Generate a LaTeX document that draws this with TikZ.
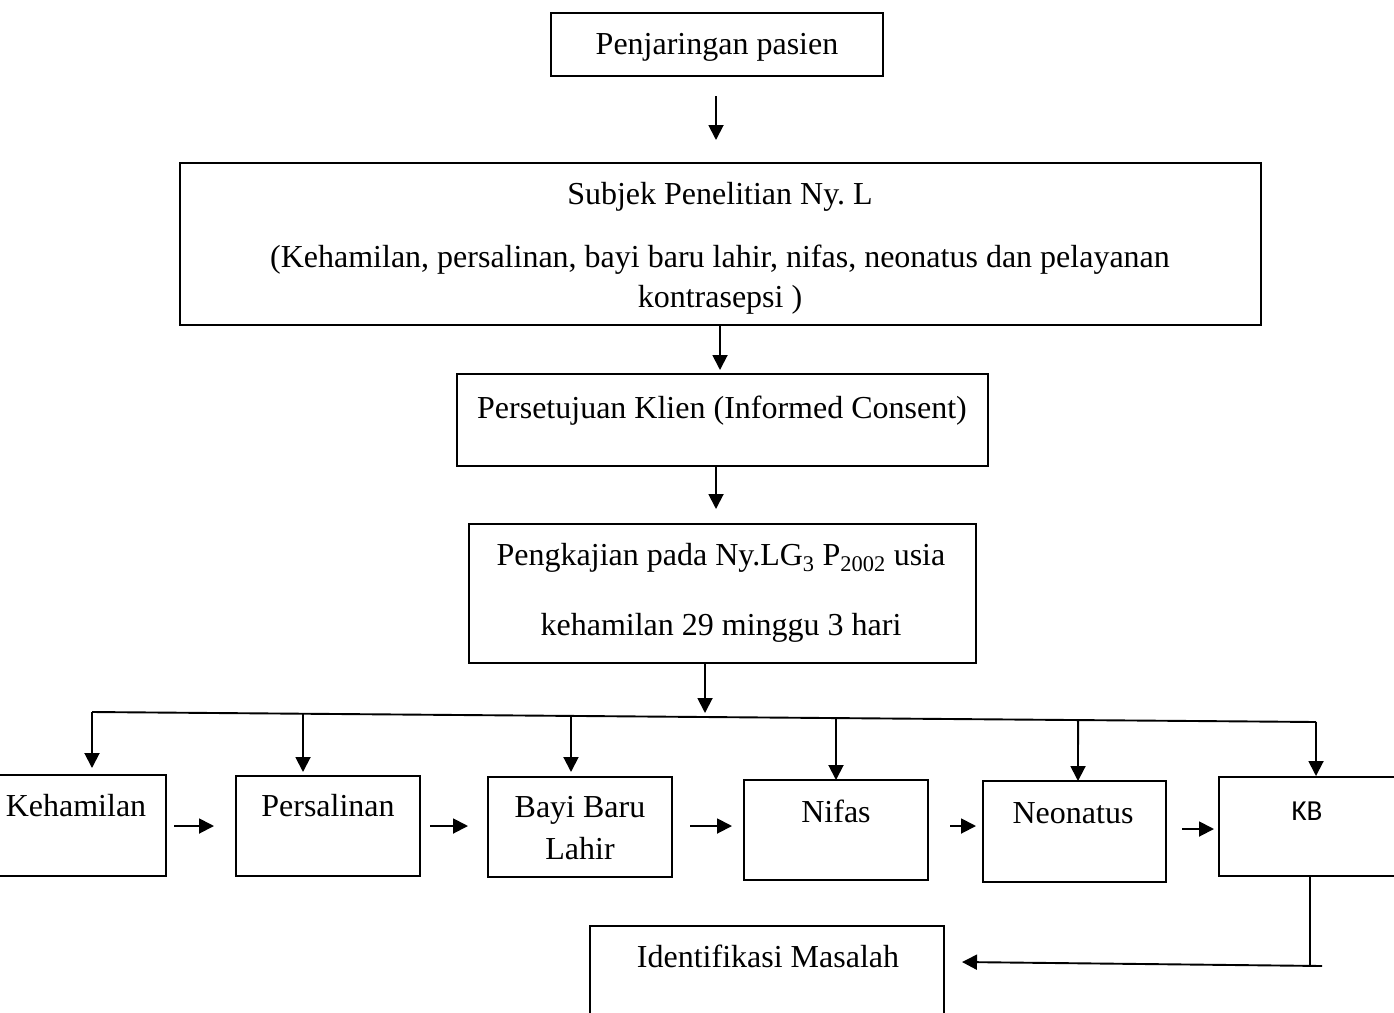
\documentclass[tikz,border=0pt]{standalone}
\usepackage{fontspec}
\setmainfont{Liberation Serif}
\newfontfamily\kbfont{Carlito}
\usetikzlibrary{arrows.meta,calc}
\frenchspacing
\begin{document}
\begin{tikzpicture}[x=1pt,y=-1pt,
  frame/.style={draw, line width=1.6pt, inner sep=0pt},
  txt/.style={font=\fontsize{32}{38}\selectfont, inner sep=0pt, anchor=base},
  arr/.style={line width=1.9pt, -{Triangle[length=15pt,width=15pt]}},
  ln/.style={line width=1.9pt}]
\clip (0,0) rectangle (1394,1012);
\fill[white] (0,0) rectangle (1394,1012);
% boxes
\node[frame, minimum width=332pt, minimum height=63pt] (pj) at (717,44.5) {};
\node[frame, minimum width=1081pt, minimum height=162pt] (subj) at (720.5,244) {};
\node[frame, minimum width=531pt, minimum height=92pt] (pers) at (722.5,420) {};
\node[frame, minimum width=507pt, minimum height=139pt] (peng) at (722.5,593.5) {};
\node[frame, minimum width=168pt, minimum height=101pt] (keh) at (82,825.5) {};
\node[frame, minimum width=184pt, minimum height=100pt] (psl) at (328,826) {};
\node[frame, minimum width=184pt, minimum height=100pt] (bayi) at (580,827) {};
\node[frame, minimum width=184pt, minimum height=100pt] (nif) at (836,830) {};
\node[frame, minimum width=183pt, minimum height=101pt] (neo) at (1074.5,831.5) {};
\node[frame, minimum width=190pt, minimum height=99pt] (kb) at (1314,826.5) {};
\node[frame, minimum width=354pt, minimum height=104pt] (iden) at (767,978) {};
% texts
\node[txt] (pjT) at (717,54) {Penjaringan pasien};
\node[txt] (subjT1) at (720,204) {Subjek Penelitian Ny. L};
\node[txt] (subjT2) at (720,267) {(Kehamilan, persalinan, bayi baru lahir, nifas, neonatus dan pelayanan};
\node[txt] (subjT3) at (720,307) {kontrasepsi )};
\node[txt] (persT) at (722,418) {Persetujuan Klien (Informed Consent)};
\node[txt] (pengT1) at (721,565) {Pengkajian pada Ny.LG\textsubscript{3} P\textsubscript{2002} usia};
\node[txt] (pengT2) at (721,635) {kehamilan 29 minggu 3 hari};
\node[txt] (kehT) at (76,816) {Kehamilan};
\node[txt] (pslT) at (328,816) {Persalinan};
\node[txt] (bayiT1) at (580,817) {Bayi Baru};
\node[txt] (bayiT2) at (580,859) {Lahir};
\node[txt] (nifT) at (836,822) {Nifas};
\node[txt] (neoT) at (1073,823) {Neonatus};
\node[txt, font=\kbfont\fontsize{29}{34}\selectfont] (kbT) at (1307,820) {KB};
\node[txt] (idenT) at (768,967) {Identifikasi Masalah};
% free connector ends
\coordinate (a1s) at (716,96);
\coordinate (a1e) at (716,140);
\coordinate (busL) at (92,712);
\coordinate (busR) at (1316,722);
\coordinate (kbturn) at (1310,965);
\coordinate (kbend) at (1322,966);
% vertical arrows
\draw[arr] (a1s) -- (a1e);
\draw[arr] (subj.south -| 720,0) -- (720,370);
\draw[arr] (pers.south -| 716,0) -- (716,509);
\draw[arr] (peng.south -| 705,0) -- (705,713);
% bus
\draw[ln] (busL) -- (busR);
\draw[arr] (busL) -- (92,768);
\draw[arr] ($(busL)!0.1724!(busR)$) -- (303,772);
\draw[arr] ($(busL)!0.3913!(busR)$) -- (571,772);
\draw[arr] ($(busL)!0.6078!(busR)$) -- (836,780);
\draw[arr] ($(busL)!0.8056!(busR)$) -- (1078,781);
\draw[arr] (busR) -- (1316,776);
% horizontal arrows
\draw[arr] (174,826) -- (214,826);
\draw[arr] (430,826) -- (468,826);
\draw[arr] (690,826) -- (732,826);
\draw[arr] (950,826) -- (976,826);
\draw[arr] (1182,829) -- (1214,829);
% KB to Identifikasi
\draw[ln] (kb.south -| kbturn) -- (kbturn);
\draw[arr] (kbend) -- (962,962);
\end{tikzpicture}
\end{document}
